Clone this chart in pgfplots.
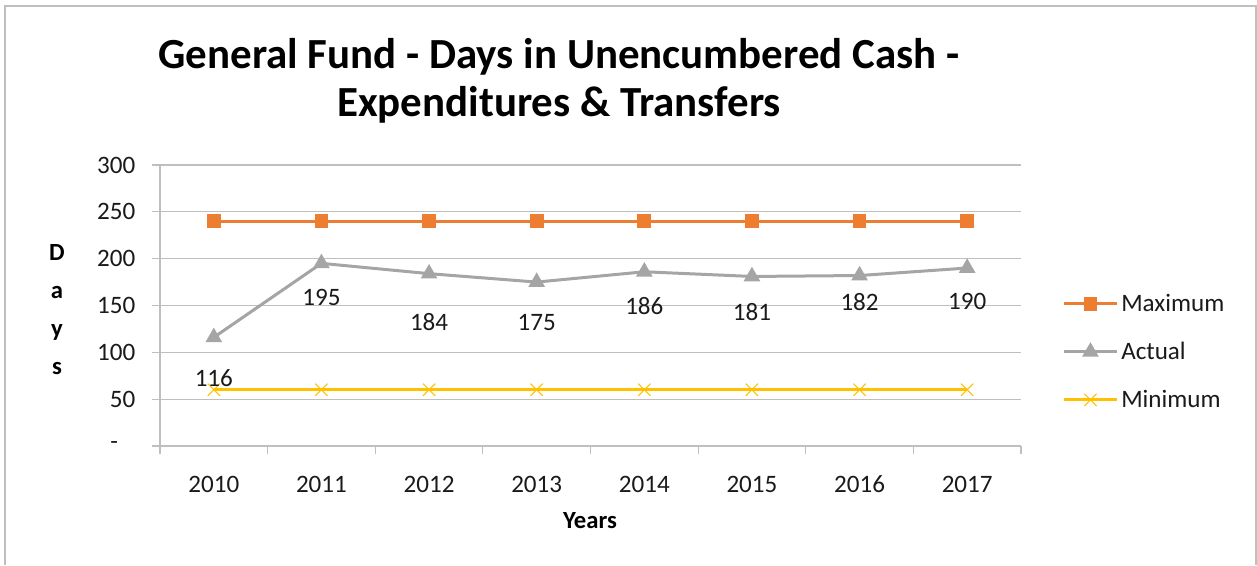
\documentclass[border=0pt]{standalone}
\usepackage{pgfplots}
\pgfplotsset{compat=1.18}
\usepackage{fontspec}
\setmainfont{Carlito}
\definecolor{cmax}{HTML}{ED7D31}
\definecolor{cact}{HTML}{A5A5A5}
\definecolor{cmin}{HTML}{FFC000}
\definecolor{gridc}{HTML}{BFBFBF}
\definecolor{txt}{HTML}{1A1A1A}
\begin{document}
\begin{tikzpicture}
\path[use as bounding box] (0pt,0pt) rectangle (942.75pt,423.75pt);
\draw[gridc,line width=0.8pt] (3.75pt,0pt) -- (3.75pt,419.25pt) -- (942pt,419.25pt) -- (942pt,0pt);
\node[align=center,font=\bfseries\fontsize{32.2}{36}\selectfont] at (419.25pt,363.5pt)
  {General Fund - Days in Unencumbered Cash -\\Expenditures \& Transfers};
\node[align=center,font=\bfseries\fontsize{18.5}{28.3}\selectfont,text=black] at (42.75pt,191.6pt) {D\\a\\y\\s};
\node[font=\bfseries\fontsize{18.5}{22}\selectfont] at (442.5pt,33pt) {Years};
\begin{axis}[
  at={(120pt,89.25pt)}, anchor=south west,
  scale only axis, width=645.75pt, height=210.75pt,
  xmin=-0.5, xmax=7.5, ymin=0, ymax=300,
  xtick={0,...,7}, xticklabels={2010,2011,2012,2013,2014,2015,2016,2017},
  minor xtick={-0.5,0.5,...,7.5},
  major x tick style={draw=none},
  ytick={0,50,...,300}, yticklabels={{-\rule{13pt}{0pt}},50,100,150,200,250,300},
  ymajorgrids, grid style={gridc,line width=0.8pt},
  tick style={gridc,line width=0.8pt},
  major tick length=6pt, minor tick length=6pt, tick align=outside,
  axis x line*=bottom, axis y line*=left,
  axis line style={gridc,-,line width=0.8pt},
  ticklabel style={font=\fontsize{18.8}{22}\selectfont,text=txt},
  xticklabel style={yshift=-13pt},
  yticklabel style={xshift=-9pt},
  legend style={at={(1.043,0.335)},anchor=west,draw=none,fill=none,
    font=\fontsize{18.8}{22}\selectfont,text=txt,row sep=17.5pt,
    /tikz/every even column/.append style={column sep=4pt}},
  legend cell align=left,
  legend image code/.code={\draw[mark repeat=2,mark phase=2] plot coordinates {(0pt,0pt) (20pt,0pt) (40pt,0pt)};},
]
\addplot[cmax,line width=2.25pt,mark=square*,mark size=4pt,mark options={solid}] coordinates {(0,240)(1,240)(2,240)(3,240)(4,240)(5,240)(6,240)(7,240)};
\addlegendentry{Maximum}
\addplot[cact,line width=2.25pt,mark=triangle*,mark size=5pt] coordinates {(0,116)(1,195)(2,184)(3,175)(4,186)(5,181)(6,182)(7,190)};
\addlegendentry{Actual}
\addplot[cmin,line width=2.25pt,mark=x,mark size=6.5pt,mark options={line width=0.8pt}] coordinates {(0,60)(1,60)(2,60)(3,60)(4,60)(5,60)(6,60)(7,60)};
\addlegendentry{Minimum}
\addplot[draw=none,forget plot,point meta=explicit symbolic,nodes near coords,
  every node near coord/.style={anchor=center,font=\fontsize{18.8}{22}\selectfont,text=txt}]
  table[meta=lab] {
x y lab
0 72.6 116
1 159 195
2 132 184
3 132 175
4 149 186
5 143 181
6 154 182
7 154 190
};
\end{axis}
\end{tikzpicture}
\end{document}
